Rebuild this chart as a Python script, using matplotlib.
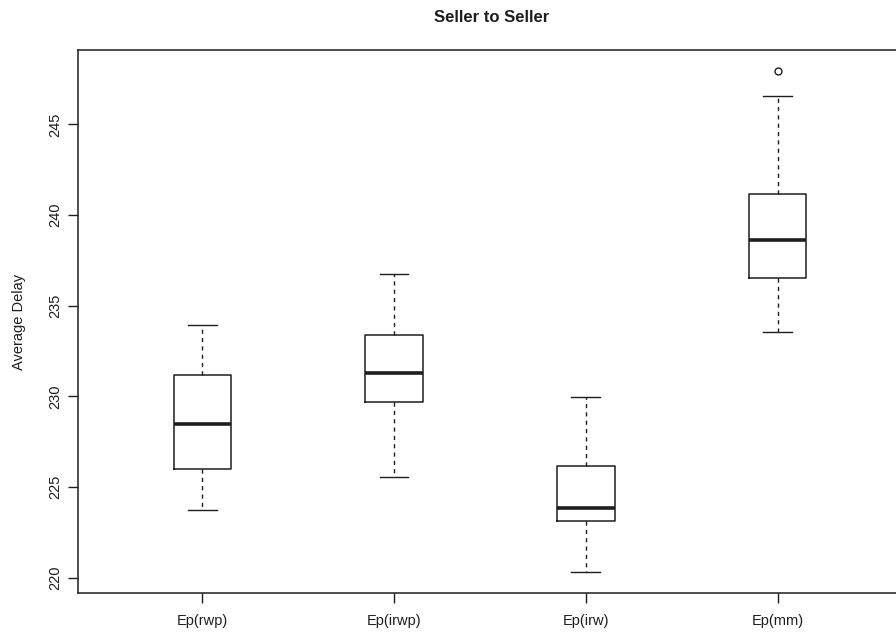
import matplotlib
matplotlib.use('Agg')
import matplotlib.pyplot as plt

# Box statistics
labels = ['Ep(rwp)', 'Ep(irwp)', 'Ep(irw)', 'Ep(mm)']
whis_lo = [223.75, 225.57, 220.29, 233.56]
q1 = [226.0, 229.70, 223.12, 236.51]
med = [228.46, 231.27, 223.82, 238.62]
q3 = [231.16, 233.36, 226.17, 241.14]
whis_hi = [233.92, 236.73, 229.96, 246.56]
fliers = [[], [], [], [247.96]]
y_ticks = [220, 225, 230, 235, 240, 245]

plt.rcParams['font.family'] = ['Liberation Sans', 'DejaVu Sans']
ink = '#1e1e1e'

stats = []
for i in range(len(labels)):
    stats.append({'label': labels[i], 'whislo': whis_lo[i], 'q1': q1[i], 'med': med[i],
                  'q3': q3[i], 'whishi': whis_hi[i], 'fliers': fliers[i]})

fig = plt.figure(figsize=(8.96, 6.36), dpi=100)
ax = fig.add_axes([0.0867, 0.0676, 0.9245, 0.8538])

ax.bxp(stats, positions=[1, 2, 3, 4], widths=0.3, capwidths=0.15,
       boxprops=dict(color=ink, linewidth=1.1),
       medianprops=dict(color=ink, linewidth=2.6, solid_capstyle='butt'),
       whiskerprops=dict(color=ink, linewidth=1.0, linestyle=(0, (3, 3))),
       capprops=dict(color=ink, linewidth=1.0),
       flierprops=dict(marker='o', markersize=5, markerfacecolor='none',
                       markeredgecolor=ink, markeredgewidth=1.0))

ax.set_xlim(0.35, 4.67)
ax.set_ylim(219.15, 249.1)
ax.set_yticks(y_ticks)
ax.set_yticklabels([str(t) for t in y_ticks], rotation=90, va='center', fontsize=10.5, color=ink)
ax.set_xticks([1, 2, 3, 4])
ax.set_xticklabels(labels, fontsize=10.5, color=ink)
ax.tick_params(axis='y', length=7, width=1.0, color=ink, pad=4)
ax.tick_params(axis='x', length=7, width=1.0, color=ink, pad=8)

for s in ['left', 'bottom', 'top']:
    ax.spines[s].set_color(ink)
    ax.spines[s].set_linewidth(1.1)
ax.spines['right'].set_visible(False)

ax.set_ylabel('Average Delay', fontsize=10.5, color=ink, labelpad=16)
ax.set_title('Seller to Seller', fontsize=12, fontweight='bold', color=ink, pad=20)

fig.savefig('out.png', dpi=100)
